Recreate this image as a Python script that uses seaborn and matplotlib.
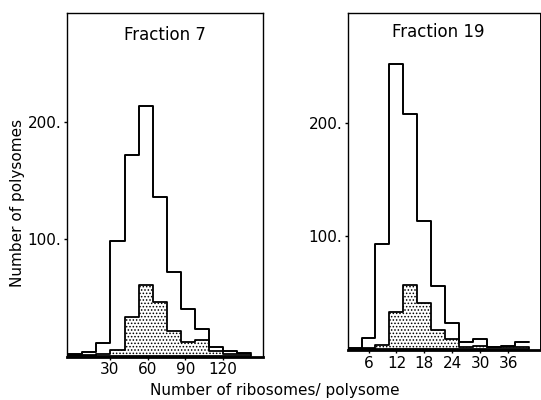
import numpy as np
import pandas as pd
import matplotlib
matplotlib.use("Agg")
import matplotlib.pyplot as plt
import seaborn as sns

sns.set_theme(style="white")
plt.rcParams['font.family'] = ['DejaVu Sans']
plt.rcParams['hatch.linewidth'] = 0.7
plt.rcParams['text.color'] = 'black'
plt.rcParams['axes.labelcolor'] = 'black'
plt.rcParams['xtick.color'] = 'black'
plt.rcParams['ytick.color'] = 'black'

# Fraction 7 : bin edges (ribosomes/polysome) and counts
f7_edges = [-3.2, 8.0, 19.2, 30.4, 41.6, 52.8, 64.0, 75.2, 86.4, 97.6, 108.8, 120.0, 131.2, 142.4]
f7_total = [2, 3, 11, 98, 172, 214, 136, 72, 40, 23, 8, 4, 2.5]
f7_stip = [0.5, 1, 2, 5, 33, 61, 46, 21, 12, 14, 4, 1.5, 1.5]

# Fraction 19
f19_edges = [1.5, 4.5, 7.5, 10.5, 13.5, 16.5, 19.5, 22.5, 25.5, 28.5, 31.5, 34.5, 37.5, 40.5]
f19_total = [1, 10, 93, 252, 208, 113, 56, 23, 6.5, 9, 2, 3, 6.5]
f19_stip = [0.5, 1, 3.5, 33, 57, 41, 17, 8.5, 2, 3, 1.5, 2, 1.5]

f7_ticks = [30, 60, 90, 120]
f19_ticks = [6, 12, 18, 24, 30, 36]
y_ticks = [100, 200]
y_ticklabels = ["100.", "200."]

fig = plt.figure(figsize=(5.41, 4.0), dpi=100)
ax1 = fig.add_axes([67/541, 1-356.5/400, 196/541, 343.5/400])
ax2 = fig.add_axes([348/541, 1-350/400, 192/541, 337/400])


def draw(ax, edges, total, stip):
    e = np.array(edges)
    centers = (e[:-1] + e[1:]) / 2
    df = pd.DataFrame({"x": centers, "total": total, "stip": stip})
    sns.histplot(data=df, x="x", weights="stip", bins=edges, element="step",
                 fill=True, color="white", edgecolor="black", linewidth=1.3,
                 alpha=1, ax=ax)
    for c in ax.collections:
        c.set_hatch(".....")
        c.set_edgecolor("black")
    sns.histplot(data=df, x="x", weights="total", bins=edges, element="step",
                 fill=False, color="black", linewidth=1.4, ax=ax)


draw(ax1, f7_edges, f7_total, f7_stip)
draw(ax2, f19_edges, f19_total, f19_stip)

ax1.set_xlim(-4.2, 151.7)
ax1.set_ylim(-0.5, 293.6)
ax2.set_xlim(1.6, 42.8)
ax2.set_ylim(-0.8, 297)

for ax, ticks in ((ax1, f7_ticks), (ax2, f19_ticks)):
    ax.set_xticks(ticks)
    ax.set_xticklabels([str(t) for t in ticks], fontsize=11)
    ax.set_yticks(y_ticks)
    ax.set_yticklabels(y_ticklabels, fontsize=11)
    ax.tick_params(axis="both", direction="out", length=2, width=1, pad=2,
                   bottom=True, left=True, colors="black")
    ax.set_xlabel("")
    ax.set_ylabel("")
    for s in ax.spines.values():
        s.set_color("black")
        s.set_linewidth(1.0)
    ax.spines["bottom"].set_linewidth(2.0)

ax2.spines["right"].set_linewidth(0.7)

ax1.text(0.5, 0.935, "Fraction 7", transform=ax1.transAxes, ha="center",
         va="center", fontsize=12, color="black")
ax2.text(0.47, 0.945, "Fraction 19", transform=ax2.transAxes, ha="center",
         va="center", fontsize=12, color="black")

fig.text(18/541, 1-203/400, "Number of polysomes", rotation=90, ha="center",
         va="center", fontsize=11, color="black")
fig.text(275/541, 1-391/400, "Number of ribosomes/ polysome", ha="center",
         va="center", fontsize=11, color="black")

fig.savefig("out.png", dpi=100)
